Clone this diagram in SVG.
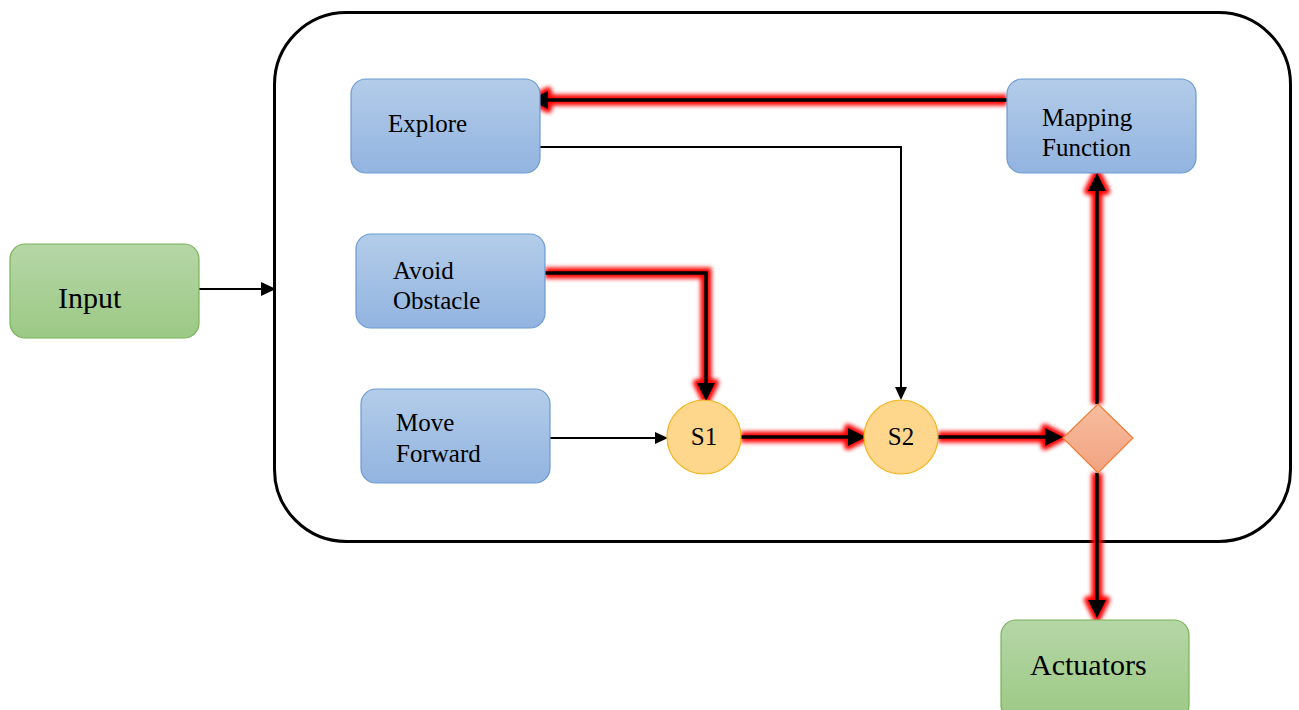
<svg xmlns="http://www.w3.org/2000/svg" width="1299" height="710" viewBox="0 0 1299 710">
  <defs>
    <linearGradient id="gBlue" x1="0" y1="0" x2="0" y2="1">
      <stop offset="0" stop-color="#b3cce9"/>
      <stop offset="1" stop-color="#92b4e0"/>
    </linearGradient>
    <linearGradient id="gGreen" x1="0" y1="0" x2="0" y2="1">
      <stop offset="0" stop-color="#b5d6a6"/>
      <stop offset="1" stop-color="#9cc985"/>
    </linearGradient>
    <linearGradient id="gOrange" x1="0" y1="0" x2="0" y2="1">
      <stop offset="0" stop-color="#f6bd9f"/>
      <stop offset="1" stop-color="#f2a380"/>
    </linearGradient>
    <!-- soft red halo around the highlighted route -->
    <filter id="glow" filterUnits="userSpaceOnUse" x="0" y="0" width="1299" height="710">
      <feGaussianBlur stdDeviation="2"/>
    </filter>
  </defs>
  <style>
    .blue { fill: url(#gBlue); stroke: #6b9bd3; stroke-width: 1.2; }
    .green { fill: url(#gGreen); stroke: #79b258; stroke-width: 1.2; }
    .circ { fill: #fed68c; stroke: #f3b51c; stroke-width: 1.2; }
    .diam { fill: url(#gOrange); stroke: #ef7d34; stroke-width: 1.2; }
    text { font-family: "Liberation Serif", "Times New Roman", serif; fill: #000; }
    .t26 { font-size: 25px; }
    .t31 { font-size: 30px; }
    .thin { fill: none; stroke: #000; stroke-width: 2; }
    .head { fill: #000; stroke: none; }
    .halo path { fill: none; stroke: #ff0000; stroke-width: 11; }
    .halo polygon { fill: #ff0000; stroke: #ff0000; stroke-width: 8; stroke-linejoin: round; }
    .core { fill: none; stroke: #000; stroke-width: 3.5; }
  </style>

  <!-- controller boundary -->
  <rect x="274.5" y="12.5" width="1016" height="529" rx="72" ry="72" fill="#fff" stroke="#000" stroke-width="3"/>

  <!-- connectors -->
  <g id="connectors">
    <!-- plain links -->
    <path class="thin" d="M199,289 H263"/>
    <polygon class="head" points="276,289 261,282 261,296"/>
    <path class="thin" d="M540,147 H901 V389"/>
    <polygon class="head" points="901,400 895,387 907,387"/>
    <path class="thin" d="M550,438 H657"/>
    <polygon class="head" points="668,438 655,432 655,444"/>

    <!-- highlighted route: halo -->
    <g class="halo" filter="url(#glow)">
      <path d="M1007,100 H546"/>
      <polygon points="530,100 548,91 548,109"/>
      <path d="M545,273 H706 V386"/>
      <polygon points="706,401 697,383 715,383"/>
      <path d="M741,437 H850"/>
      <polygon points="866,437 848,428 848,446"/>
      <path d="M938,437 H1047"/>
      <polygon points="1063,437 1045,428 1045,446"/>
      <path d="M1097,404 V189"/>
      <polygon points="1097,173 1088,191 1106,191"/>
      <path d="M1097,473 V602"/>
      <polygon points="1097,618 1088,600 1106,600"/>
    </g>
    <!-- highlighted route: line and heads -->
    <g>
      <path class="core" d="M1007,100 H546"/>
      <polygon class="head" points="530,100 548,91 548,109"/>
      <path class="core" d="M545,273 H706 V386"/>
      <polygon class="head" points="706,401 697,383 715,383"/>
      <path class="core" d="M741,437 H850"/>
      <polygon class="head" points="866,437 848,428 848,446"/>
      <path class="core" d="M938,437 H1047"/>
      <polygon class="head" points="1063,437 1045,428 1045,446"/>
      <path class="core" d="M1097,404 V189"/>
      <polygon class="head" points="1097,173 1088,191 1106,191"/>
      <path class="core" d="M1097,473 V602"/>
      <polygon class="head" points="1097,618 1088,600 1106,600"/>
    </g>
  </g>

  <!-- nodes -->
  <g id="input">
    <rect class="green" x="10" y="244" width="189" height="94" rx="15"/>
    <text class="t31" x="58" y="308">Input</text>
  </g>
  <g id="explore">
    <rect class="blue" x="351" y="79" width="189" height="94" rx="15"/>
    <text class="t26" x="388" y="132">Explore</text>
  </g>
  <g id="mapping">
    <rect class="blue" x="1007" y="79" width="189" height="94" rx="15"/>
    <text class="t26" x="1042" y="126">Mapping</text>
    <text class="t26" x="1042" y="156">Function</text>
  </g>
  <g id="avoid">
    <rect class="blue" x="356" y="234" width="189" height="94" rx="15"/>
    <text class="t26" x="393" y="279">Avoid</text>
    <text class="t26" x="393" y="309">Obstacle</text>
  </g>
  <g id="forward">
    <rect class="blue" x="361" y="389" width="189" height="94" rx="15"/>
    <text class="t26" x="396" y="431">Move</text>
    <text class="t26" x="396" y="462">Forward</text>
  </g>
  <g id="s1">
    <circle class="circ" cx="704" cy="437" r="37"/>
    <text class="t26" x="704" y="445" text-anchor="middle">S1</text>
  </g>
  <g id="s2">
    <circle class="circ" cx="901" cy="437" r="37"/>
    <text class="t26" x="901" y="445" text-anchor="middle">S2</text>
  </g>
  <g id="decision">
    <path class="diam" d="M1098,404 L1133,438 L1098,473 L1063,438 Z"/>
  </g>
  <g id="actuators">
    <rect class="green" x="1001" y="620" width="188" height="100" rx="15"/>
    <text class="t31" x="1030" y="675">Actuators</text>
  </g>
</svg>
